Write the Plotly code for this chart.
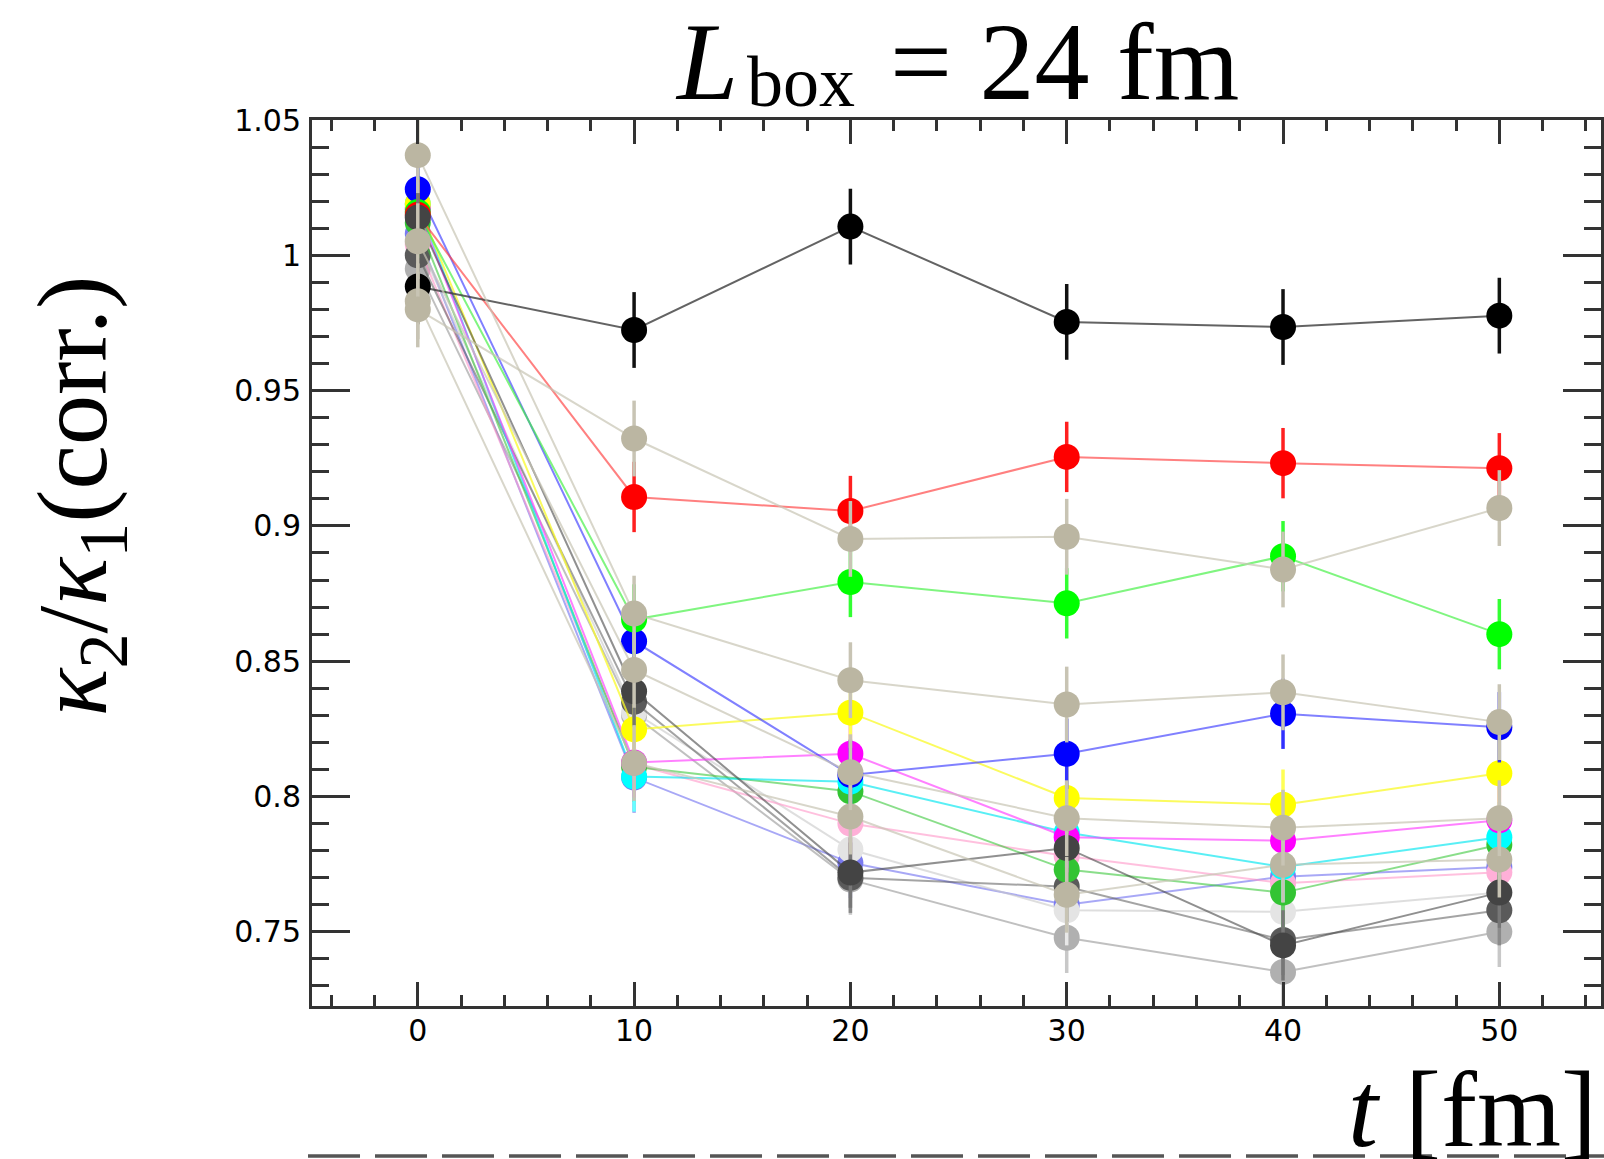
import plotly.graph_objects as go

# ---------------- data ----------------
t_fm = [0, 10, 20, 30, 40, 50]

black   = [0.9885, 0.9724, 1.0106, 0.9754, 0.9735, 0.9777]
red     = [1.0150, 0.9107, 0.9055, 0.9255, 0.9232, 0.9213]
lime    = [1.0160, 0.8654, 0.8793, 0.8714, 0.8888, 0.8600]
blue    = [1.0244, 0.8574, 0.8080, 0.8158, 0.8306, 0.8256]
yellow  = [1.0190, 0.8248, 0.8310, 0.7995, 0.7970, 0.8086]
magenta = [1.0170, 0.8126, 0.8158, 0.7850, 0.7837, 0.7912]
cyan    = [1.0190, 0.8074, 0.8055, 0.7867, 0.7740, 0.7850]
green   = [1.0120, 0.8110, 0.8019, 0.7730, 0.7645, 0.7822]
violet  = [1.0080, 0.8070, 0.7755, 0.7600, 0.7704, 0.7740]
pink    = [1.0040, 0.8120, 0.7900, 0.7780, 0.7680, 0.7720]
dgray   = [1.0140, 0.8389, 0.7719, 0.7810, 0.7450, 0.7645]
gray    = [1.0000, 0.8350, 0.7700, 0.7667, 0.7470, 0.7580]
lgray   = [1.0050, 0.8311, 0.7804, 0.7580, 0.7574, 0.7645]
mgray   = [0.9950, 0.8300, 0.7693, 0.7478, 0.7352, 0.7500]
tanA    = [0.9800, 0.9323, 0.8952, 0.8960, 0.8839, 0.9066]
tanB    = [1.0370, 0.8676, 0.8430, 0.8340, 0.8385, 0.8275]
tanC    = [1.0052, 0.8468, 0.8090, 0.7920, 0.7885, 0.7920]
tanD    = [0.9830, 0.8124, 0.7926, 0.7637, 0.7748, 0.7767]

err_black = [0.014, 0.014, 0.014, 0.014, 0.014, 0.014]
err_color = [0.013, 0.013, 0.013, 0.013, 0.013, 0.013]
err_tan   = [0.014, 0.014, 0.014, 0.014, 0.014, 0.014]

x_ticks = [0, 10, 20, 30, 40, 50]
x_tick_text = ["0", "10", "20", "30", "40", "50"]
y_ticks = [0.75, 0.8, 0.85, 0.9, 0.95, 1.0, 1.05]
y_tick_text = ["0.75", "0.8", "0.85", "0.9", "0.95", "1", "1.05"]

title_L = "<i>L</i>"
title_sub = "box"
title_rest = "= 24 fm"
ylabel_text = "<i>κ</i><sub>2</sub>/<i>κ</i><sub>1</sub>(corr.)"
xlabel_text = "<i>t</i> [fm]"

# (values, errors, marker colour, line colour, error colour) in drawing order
series = [
    (violet,  err_color, "#7a7af0", "rgba(110,110,240,0.6)", "#9a9af0"),
    (mgray,   err_color, "#b0b0b0", "rgba(150,150,150,0.6)", "#c8c8c8"),
    (lgray,   err_color, "#e4e4e4", "rgba(200,200,200,0.6)", "#e8e8e8"),
    (pink,    err_color, "#ffb0d8", "rgba(255,150,200,0.6)", "#ffc8e4"),
    (gray,    err_color, "#5a5a5a", "rgba(90,90,90,0.55)",   "#8a8a8a"),
    (green,   err_color, "#33c433", "rgba(60,200,60,0.6)",   "#66d066"),
    (cyan,    err_color, "#00ffff", "rgba(0,230,240,0.65)",  "#66ffff"),
    (magenta, err_color, "#ff00ff", "rgba(255,60,255,0.65)", "#ff66ff"),
    (yellow,  err_color, "#ffff00", "rgba(250,250,40,0.75)", "#ffff55"),
    (blue,    err_color, "#0000ff", "rgba(60,60,255,0.65)",  "#3030ff"),
    (lime,    err_color, "#00ff00", "rgba(60,240,60,0.65)",  "#33ff33"),
    (red,     err_color, "#ff0000", "rgba(255,60,60,0.65)",  "#ff2020"),
    (dgray,   err_color, "#444444", "rgba(70,70,70,0.6)",    "#777777"),
    (black,   err_black, "#000000", "rgba(60,60,60,0.8)",    "#111111"),
    (tanD,    err_tan,   "#bbb6a2", "rgba(200,196,180,0.7)", "#c8c4b4"),
    (tanC,    err_tan,   "#bbb6a2", "rgba(200,196,180,0.7)", "#c8c4b4"),
    (tanB,    err_tan,   "#bbb6a2", "rgba(200,196,180,0.7)", "#c8c4b4"),
    (tanA,    err_tan,   "#bbb6a2", "rgba(200,196,180,0.7)", "#c8c4b4"),
]

# ---------------- layout geometry ----------------
W, H = 1604, 1159
ML, MR, MT, MB = 312, 0, 120, 153
PW, PH = W - ML - MR, H - MT - MB


def px_x(px):
    return (px - ML) / PW


def px_y(py):
    return 1 - (py - MT) / PH


fig = go.Figure()
for vals, errs, mcol, lcol, ecol in series:
    fig.add_trace(go.Scatter(
        x=t_fm, y=vals, mode="lines+markers",
        line=dict(color=lcol, width=2),
        marker=dict(color=mcol, size=26, line=dict(width=0)),
        error_y=dict(type="data", array=errs, visible=True,
                     color=ecol, thickness=3.5, width=0),
        hoverinfo="skip", showlegend=False,
    ))

axis_col = "#333333"
fig.update_xaxes(
    range=[-4.89, 54.70], showgrid=False, zeroline=False,
    showline=True, linecolor=axis_col, linewidth=3, mirror="allticks",
    ticks="inside", ticklen=24, tickwidth=3, tickcolor=axis_col,
    tickmode="array", tickvals=x_ticks, ticktext=x_tick_text,
    tickfont=dict(family="DejaVu Sans", size=30, color="#000000"),
    ticklabelstandoff=-4,
    minor=dict(ticks="inside", dtick=2, tick0=0, ticklen=11,
               tickwidth=3, tickcolor=axis_col, showgrid=False),
)
fig.update_yaxes(
    range=[0.7226, 1.05], showgrid=False, zeroline=False,
    showline=True, linecolor=axis_col, linewidth=3, mirror="allticks",
    ticks="inside", ticklen=38, tickwidth=3, tickcolor=axis_col,
    tickmode="array", tickvals=y_ticks, ticktext=y_tick_text,
    tickfont=dict(family="DejaVu Sans", size=30, color="#000000"),
    ticklabelstandoff=2,
    minor=dict(ticks="inside", dtick=0.01, tick0=0.75, ticklen=17,
               tickwidth=3, tickcolor=axis_col, showgrid=False),
)

serif = "Liberation Serif"
fig.update_layout(
    width=W, height=H,
    margin=dict(l=ML, r=MR, t=MT, b=MB, pad=0),
    paper_bgcolor="white", plot_bgcolor="white",
    showlegend=False, hovermode=False,
    annotations=[
        dict(text=title_L, xref="paper", yref="paper",
             x=px_x(674), y=px_y(62), xanchor="left", yanchor="middle",
             showarrow=False,
             font=dict(family=serif, size=110, color="#000000")),
        dict(text=title_sub, xref="paper", yref="paper",
             x=px_x(746), y=px_y(82), xanchor="left", yanchor="middle",
             showarrow=False,
             font=dict(family=serif, size=72, color="#000000")),
        dict(text=title_rest, xref="paper", yref="paper",
             x=px_x(1066), y=px_y(62), xanchor="center", yanchor="middle",
             showarrow=False,
             font=dict(family=serif, size=110, color="#000000")),
        dict(text=ylabel_text, xref="paper", yref="paper",
             x=px_x(78), y=px_y(496), xanchor="center", yanchor="middle",
             textangle=-90, showarrow=False,
             font=dict(family=serif, size=100, color="#000000")),
        dict(text=xlabel_text, xref="paper", yref="paper",
             x=px_x(1348), y=px_y(1109), xanchor="left", yanchor="middle",
             showarrow=False,
             font=dict(family=serif, size=108, color="#000000")),
    ],
    shapes=[
        dict(type="line", xref="paper", yref="paper",
             x0=px_x(308), x1=px_x(1620), y0=px_y(1156), y1=px_y(1156),
             line=dict(color="#555555", width=3.5, dash="52px,15px")),
    ],
)

fig.write_html("out.html")
